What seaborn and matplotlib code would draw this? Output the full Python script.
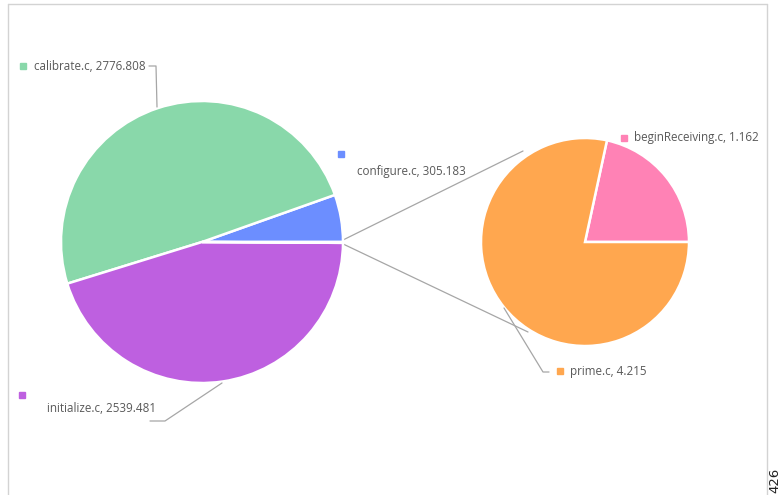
import matplotlib
matplotlib.use("Agg")
import matplotlib.pyplot as plt
import seaborn as sns

# ---- data ----
main_labels = ["configure.c", "calibrate.c", "initialize.c"]
main_values = [305.183, 2776.808, 2539.481]
main_colors = ["#6C8EFF", "#89D8AA", "#BE60E0"]

sub_labels = ["beginReceiving.c", "prime.c"]
sub_values = [1.162, 4.215]
sub_colors = ["#FF82B5", "#FFA74F"]

corner_text = "426"

sns.set_theme(style="white")
plt.rcParams['font.family'] = ['Open Sans', 'DejaVu Sans']

W, H = 782, 495
fig = plt.figure(figsize=(W / 100, H / 100), dpi=100)
ax = fig.add_axes([0, 0, 1, 1])
ax.set_xlim(0, W)
ax.set_ylim(0, H)
ax.set_aspect('equal')
ax.axis('off')

def Y(y):
    return H - y

# frame
frame_c = "#D3D3D3"
ax.plot([8, 8], [Y(4), Y(H + 5)], color=frame_c, lw=1, zorder=0)
ax.plot([8, 767], [Y(4), Y(4)], color=frame_c, lw=1, zorder=0)
ax.plot([767, 767], [Y(4), Y(H + 5)], color=frame_c, lw=1, zorder=0)

# main pie (with "other" slice = sum of sub values)
other = sum(sub_values)
vals = main_values + [other]
cols = main_colors + ["#FFFFFF"]
mc = (202, 242)
mr = 141
ax.pie(vals, colors=cols, startangle=0, counterclock=True,
       center=(mc[0], Y(mc[1])), radius=mr,
       wedgeprops=dict(edgecolor='white', linewidth=1.8), frame=True)

# sub pie
sc = (585, 242)
sr = 104
ax.pie(sub_values, colors=sub_colors, startangle=0, counterclock=True,
       center=(sc[0], Y(sc[1])), radius=sr,
       wedgeprops=dict(edgecolor='white', linewidth=1.8), frame=True)
ax.set_xlim(0, W)
ax.set_ylim(0, H)
ax.axis('off')

line_c = "#A6A6A6"
# connector lines
ax.plot([341, 523], [Y(241), Y(151)], color=line_c, lw=0.9, zorder=0.5)
ax.plot([341, 528], [Y(243), Y(332)], color=line_c, lw=0.9, zorder=0.5)

# leader lines
ax.plot([149, 156, 157], [Y(66), Y(66), Y(107)], color=line_c, lw=0.9, zorder=3)
ax.plot([222, 165, 150], [Y(383), Y(421), Y(421)], color=line_c, lw=0.9, zorder=3)
ax.plot([504, 543, 549], [Y(308), Y(372), Y(372)], color=line_c, lw=0.9, zorder=3)

txt_c = "#595959"
fs = 8.4

def label(mx, my, tx, ty, text, color):
    ax.plot([mx], [Y(my)], marker='s', ms=3.8, color=color, mec=color, ls='none', zorder=4)
    ax.text(tx, Y(ty), text, fontsize=fs, color=txt_c, va='center', ha='left', zorder=4)

label(23, 66, 34, 66, f"{main_labels[1]}, {main_values[1]}", main_colors[1])
label(341, 154, 357, 171, f"{main_labels[0]}, {main_values[0]}", main_colors[0])
label(22, 395, 47, 408, f"{main_labels[2]}, {main_values[2]}", main_colors[2])
label(624, 138, 634, 138, f"{sub_labels[0]}, {sub_values[0]}", sub_colors[0])
label(560, 371, 570, 371, f"{sub_labels[1]}, {sub_values[1]}", sub_colors[1])

ax.text(775, Y(480), corner_text, rotation=90, fontsize=9.5, color="#222222",
        family='DejaVu Sans', ha='center', va='center', clip_on=False)

fig.savefig("out.png", dpi=100)
